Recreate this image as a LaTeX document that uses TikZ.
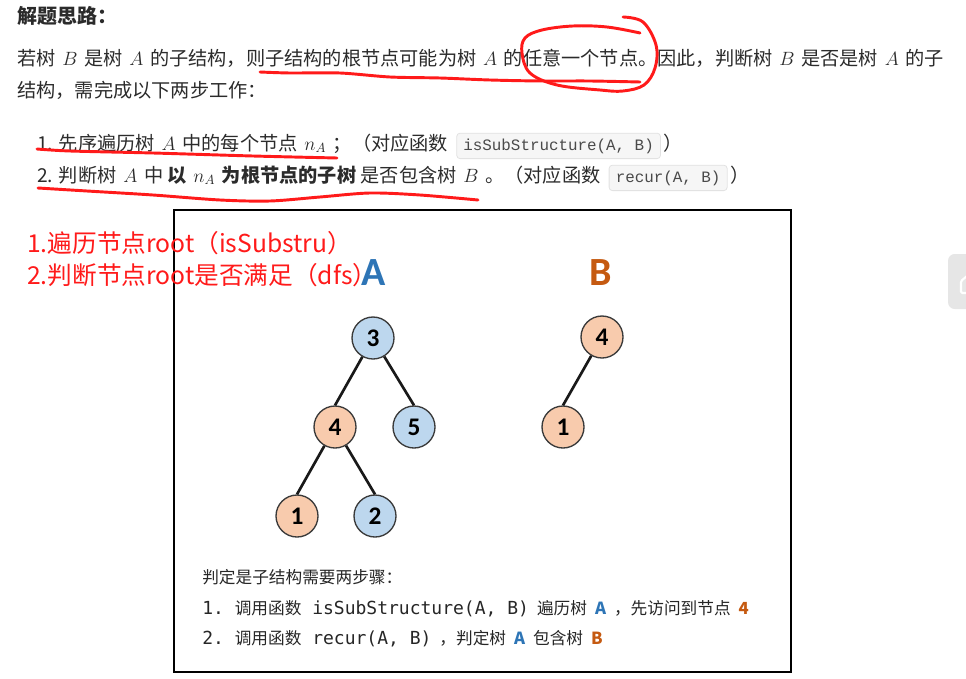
\documentclass[tikz,border=0pt]{standalone}
\usepackage{fontspec}
\usepackage{tikz}
\usetikzlibrary{positioning,calc}
\setmainfont{Noto Sans CJK SC}
\setmonofont{DejaVu Sans Mono}
\newfontfamily\codefont{Liberation Mono}
\newfontfamily\calibri{Carlito}
\definecolor{ink}{HTML}{2B2B2B}
\definecolor{redpen}{HTML}{FF1A1A}
\definecolor{bluefill}{HTML}{BDD7EE}
\definecolor{orangefill}{HTML}{F8CBAD}
\definecolor{bluetxt}{HTML}{2E75B6}
\definecolor{orangetxt}{HTML}{C55A11}
\definecolor{ring}{HTML}{3A3A3A}
\definecolor{codebg}{HTML}{F6F6F6}
\definecolor{codeln}{HTML}{E2E2E2}
\definecolor{codeink}{HTML}{4A4A4A}
\definecolor{sidebar}{HTML}{E6E6E6}
\newcommand\mv[1]{\hspace{5pt}$#1$\hspace{5pt}}
\newcommand\boxcode[1]{{\ttfamily\fontsize{13.5}{15}\selectfont #1}}
\newcommand\gap{\hspace{6pt}}

\begin{document}
\begin{tikzpicture}[x=0.75pt,y=-0.75pt,
    para/.style={anchor=base west,inner sep=0pt,text=ink,font=\fontsize{14.4}{17}\selectfont},
    heading/.style={para,font=\bfseries\fontsize{15}{18}\selectfont},
    code/.style={anchor=base west,fill=codebg,draw=codeln,line width=0.6pt,rounded corners=2.5pt,
      inner xsep=5pt,inner ysep=4pt,text=codeink,font=\codefont\fontsize{11.9}{14}\selectfont},
    note/.style={anchor=base west,inner sep=0pt,text=redpen,font=\fontsize{18.5}{22}\selectfont},
    pen/.style={draw=redpen,line width=2.2pt,line cap=round,line join=round},
    treelabel/.style={inner sep=0pt,font=\calibri\bfseries\fontsize{30}{30}\selectfont},
    tnode/.style={circle,draw=ring,line width=1pt,minimum size=31.5pt,inner sep=0pt,
      font=\calibri\bfseries\fontsize{19}{19}\selectfont},
    bnode/.style={tnode,fill=bluefill},
    onode/.style={tnode,fill=orangefill},
    branch/.style={line width=2pt,draw=black!90},
    boxtxt/.style={anchor=base west,inner sep=0pt,text=black!85,font=\fontsize{12.5}{15}\selectfont}
  ]
  \useasboundingbox (0,0) rectangle (966,678);

  % text above the figure
  \node[heading] (title) at (17,23) {解题思路：};
  \node[para] (p1) at (17,65) {若树\mv{B}是树\mv{A}的子结构，则子结构的根节点可能为树\mv{A}的任意一个节点。因此，判断树\mv{B}是否是树\mv{A}的子};
  \node[para] (p2) at (17,97) {结构，需完成以下两步工作：};

  \node[para] (s1) at (37,150) {1. 先序遍历树\mv{A}中的每个节点\mv{n_A}；（对应函数};
  \node[code] (s1code) at ([xshift=6pt]s1.base east) {isSubStructure(A, B)};
  \node[para] (s1end) at ([xshift=2pt]s1code.base east) {）};
  \node[para] (s2) at (37,182) {2. 判断树\mv{A}中 \textbf{以\mv{n_A}为根节点的子树} 是否包含树\mv{B}。（对应函数};
  \node[code] (s2code) at ([xshift=6pt]s2.base east) {recur(A, B)};
  \node[para] (s2end) at ([xshift=2pt]s2code.base east) {）};

  % side button cut by the edge
  \fill[sidebar,rounded corners=5pt] (948,254) rectangle (990,309);
  \draw[white,line width=1.6pt,rounded corners=1pt] (967,276) -- (961,281) -- (961,293) -- (967,293);

  % figure frame
  \draw[line width=1.3pt] (174,210) rectangle (791,672);

  % tree A
  \node[treelabel,text=bluetxt] (labA) at (374,273) {A};
  \node[bnode] (a3) at (373,338) {3};
  \node[onode] (a4) at (335,427) {4};
  \node[bnode] (a5) at (414,427) {5};
  \node[onode] (a1) at (297,516) {1};
  \node[bnode] (a2) at (375,516) {2};
  \draw[branch] (a3) -- (a4.north);
  \draw[branch] (a3) -- (a5.north);
  \draw[branch] (a4) -- (a1.north);
  \draw[branch] (a4) -- (a2.north);

  % tree B
  \node[treelabel,text=orangetxt] (labB) at (601,273) {B};
  \node[onode] (b4) at (602,337) {4};
  \node[onode] (b1) at (563,427) {1};
  \draw[branch] (b4) -- (b1.north);

  % caption inside the frame
  \node[boxtxt] (st0) at (202,583) {判定是子结构需要两步骤：};
  \node[boxtxt] (st1) at (202,614) {\boxcode{1. }调用函数\boxcode{ isSubStructure(A, B)}\gap 遍历树\gap{\bfseries\color{bluetxt}A}\gap ，先访问到节点\gap{\bfseries\color{orangetxt}4}};
  \node[boxtxt] (st2) at (202,644) {\boxcode{2. }调用函数\boxcode{ recur(A, B)}\gap ，判定树\gap{\bfseries\color{bluetxt}A}\gap 包含树\gap{\bfseries\color{orangetxt}B}};

  % red handwriting
  \node[note] (n1) at (27,252) {1.遍历节点root（isSubstru）};
  \node[note] (n2) at (27,284) {2.判断节点root是否满足（dfs）};
  \draw[pen] plot[smooth] coordinates {(260,72) (290,73) (340,73) (390,77) (440,78) (490,80) (540,81) (590,81) (640,82)};
  \draw[pen] plot[smooth,tension=0.6] coordinates {(623,17) (643,22) (656,45) (655,68) (644,85) (623,91) (600,90) (557,85) (530,73) (522,53) (525,38) (542,30) (573,26) (607,27) (640,33)};
  \draw[pen] plot[smooth] coordinates {(37,149) (70,151) (153,153) (253,156) (337,158)};
  \draw[pen] plot[smooth] coordinates {(38,188) (87,191) (153,195) (220,200) (270,201) (320,197) (370,193) (420,195) (478,200)};
\end{tikzpicture}
\end{document}
